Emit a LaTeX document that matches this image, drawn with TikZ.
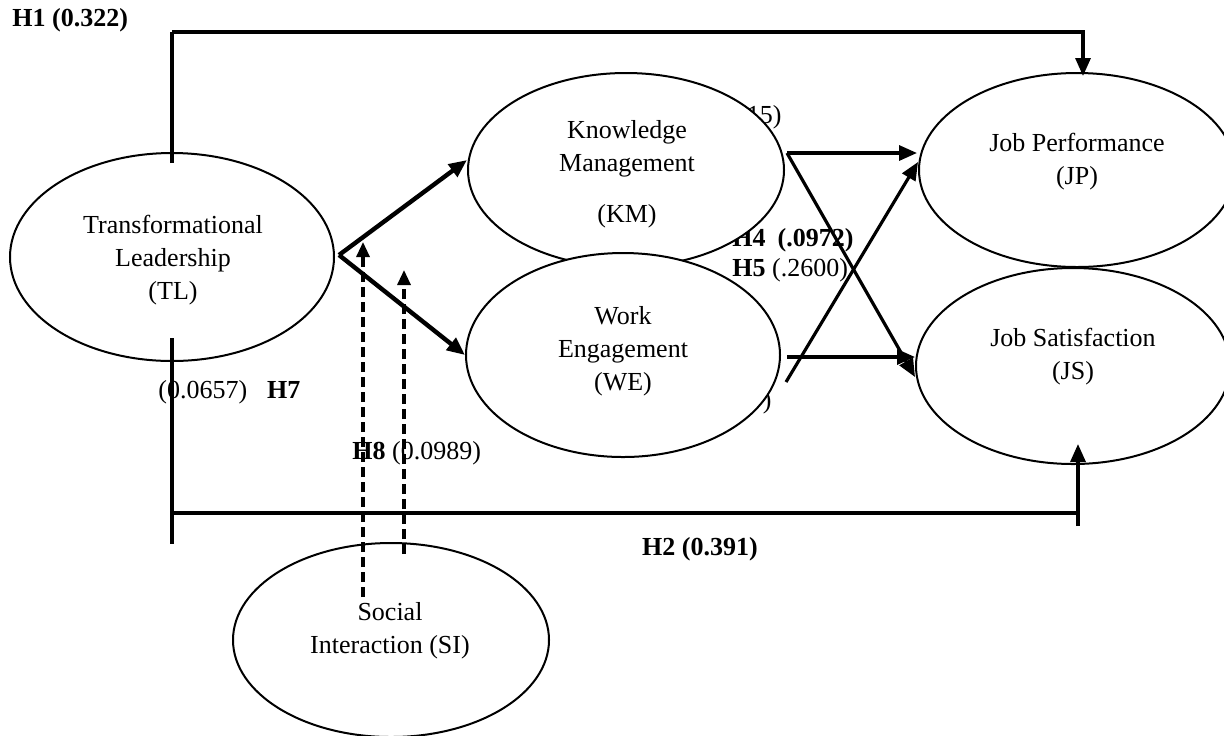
\documentclass[tikz,border=0pt]{standalone}
\usepackage{fontspec}
\setmainfont{Liberation Serif}
\usetikzlibrary{shapes.geometric, arrows.meta, positioning, calc}

\tikzset{
  construct/.style={ellipse, draw, line width=1pt, fill=white, inner sep=0pt},
  conlabel/.style={align=center, font=\fontsize{13}{16.5}\selectfont},
  hyp/.style={font=\fontsize{13}{16}\selectfont, inner sep=0pt},
  bar/.style={line width=1.6pt},
  link/.style={line width=1.6pt, -{Triangle[length=9pt,width=7.5pt]}},
  mainlink/.style={line width=2.2pt, -{Triangle[length=9pt,width=7.5pt]}},
  modlink/.style={line width=1.6pt, dash pattern=on 5pt off 2.5pt, -{Triangle[length=7.5pt,width=6.5pt]}}
}

\begin{document}
\begin{tikzpicture}[x=0.5pt, y=-0.5pt]
  \useasboundingbox (0,0) rectangle (1224,735);

  % labels partly covered by the constructs
  \node[hyp, anchor=east] (h3lab) at (782,117) {15)};
  \node[hyp, anchor=west] (h4lab) at (732,240) {\textbf{H4\hspace{6pt}(.0972)}};
  \node[hyp, anchor=east] (h6lab) at (772,402) {)};

  % constructs
  \node[construct, minimum width=162pt, minimum height=104pt] (TL) at (172,257) {};
  \node[construct, minimum width=158pt, minimum height=97pt] (KM) at (626,170) {};
  \node[construct, minimum width=157pt, minimum height=102pt] (WE) at (623,355) {};
  \node[construct, minimum width=158pt, minimum height=97pt] (JP) at (1077,170) {};
  \node[construct, minimum width=157pt, minimum height=98pt] (JS) at (1073,366) {};
  \node[construct, minimum width=158pt, minimum height=97pt] (SI) at (391,640) {};

  \node[conlabel] (TLtxt) at (173,260) {Transformational\\Leadership\\(TL)};
  \node[conlabel] (KMtxt) at (627,174) {Knowledge\\Management\\[9pt](KM)};
  \node[conlabel] (WEtxt) at (623,351) {Work\\Engagement\\(WE)};
  \node[conlabel] (JPtxt) at (1077,162) {Job Performance\\(JP)};
  \node[conlabel] (JStxt) at (1073,357) {Job Satisfaction\\(JS)};
  \node[conlabel] (SItxt) at (390,631) {Social\\Interaction (SI)};

  % path coefficients
  \node[hyp, anchor=west] (h1lab) at (12,20) {\textbf{H1 (0.322)}};
  \node[hyp] (h2lab) at (700,549) {\textbf{H2 (0.391)}};
  \node[hyp, anchor=west] (h5lab) at (732,270) {\textbf{H5} (.2600)};
  \node[hyp, anchor=west] (h7lab) at (158,392) {(0.0657)\hspace{10pt}\textbf{H7}};
  \node[hyp, anchor=west] (h8lab) at (352,453) {\textbf{H8} (0.0989)};

  % moderation targets
  \coordinate (mKM) at (363,242);
  \coordinate (mWE) at (404,270);

  % direct paths
  \draw[bar] ([yshift=-5.5pt]TL.north) -- ++(0,-131);
  \draw[link] ([yshift=-5.5pt]TL.north) ++(0,-131) -| ([xshift=3pt,yshift=-2pt]JP.north);
  \draw[bar] ([yshift=12pt]TL.south) -- ++(0,206);
  \draw[bar] ([yshift=12pt]TL.south) ++(0,175) -- ++(906,0);
  \draw[link] ([xshift=2.5pt,yshift=-30.5pt]JS.south) -- ([xshift=2.5pt,yshift=10.5pt]JS.south);

  \draw[mainlink] ([xshift=2pt,yshift=1pt]TL.east) -- ([yshift=5pt]KM.west);
  \draw[mainlink] ([xshift=2pt,yshift=1pt]TL.east) -- (WE.west);

  \draw[link] ([xshift=1pt,yshift=8.5pt]KM.east) -- ([xshift=-0.5pt,yshift=8.5pt]JP.west);
  \draw[link] ([xshift=1pt,yshift=8.5pt]KM.east) -- ([yshift=-5.5pt]JS.west);
  \draw[link] ([xshift=3pt,yshift=-1pt]WE.east) -- ([yshift=4.5pt]JS.west);
  \draw[link] ([xshift=2.5pt,yshift=-13.5pt]WE.east) -- ([yshift=4pt]JP.west);

  % moderation paths
  \draw[modlink] ([xshift=-14pt,yshift=-27.5pt]SI.north) -- (mKM);
  \draw[modlink] ([xshift=6.5pt,yshift=-6pt]SI.north) -- (mWE);
\end{tikzpicture}
\end{document}
